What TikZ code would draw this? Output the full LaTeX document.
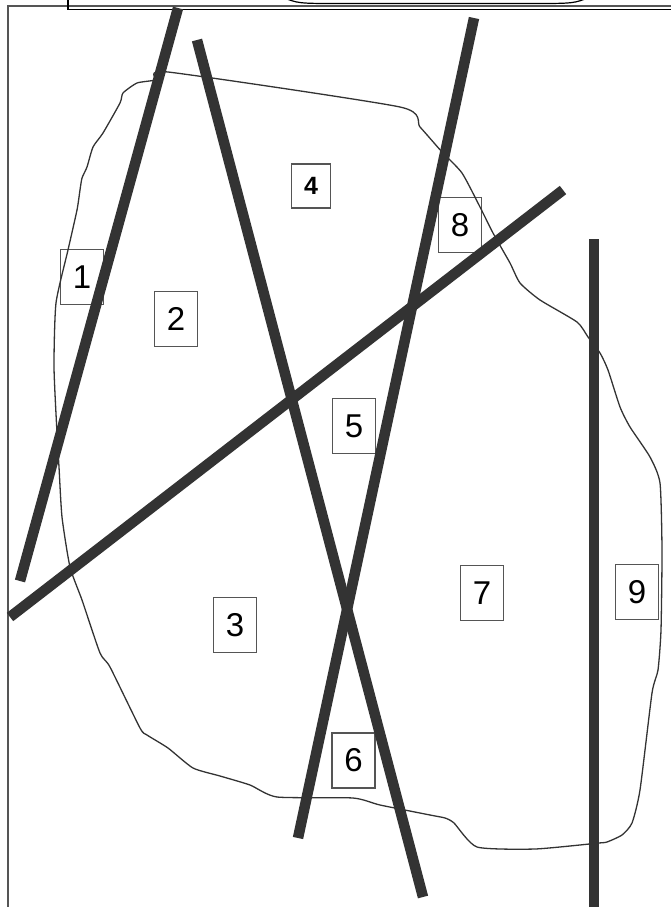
\documentclass[tikz,border=0pt]{standalone}
\usepackage{fontspec}
\setmainfont{Liberation Sans}
\begin{document}
\begin{tikzpicture}[x=1pt,y=-1pt,
  bar/.style={line width=10.5pt,draw=barc,line cap=butt},
  lbl/.style={draw=boxc,line width=1.1pt,minimum width=43pt,minimum height=55pt,inner sep=0pt,font=\fontsize{33}{33}\selectfont},
  outline/.style={draw=barc,line width=1.3pt}]
\definecolor{barc}{HTML}{333333}
\definecolor{boxc}{HTML}{555555}
\useasboundingbox (0,0) rectangle (671,907);
% frame
\draw[boxc,line width=1.3pt] (8,907) -- (8,6) -- (671,6);
\draw[black,line width=1.2pt] (68,0) -- (68,9.5) -- (671,9.5);
\draw[black,line width=1.2pt] (282,-3) .. controls (298,3.5) .. (340,3.5) -- (532,3.5) .. controls (574,3.5) .. (590,-3);
% labels
\node[lbl] (n1) at (82,277) {1};
\node[lbl] (n2) at (176,319) {2};
\node[lbl] (n3) at (235,625) {3};
\node[lbl,minimum width=39pt,minimum height=44pt,font=\fontsize{25}{25}\selectfont\bfseries] (n4) at (311,186) {4};
\node[lbl] (n5) at (354,426) {5};
\node[lbl] (n6) at (353.5,760.5) {6};
\node[lbl] (n7) at (482,593) {7};
\node[lbl] (n8) at (460,225) {8};
\node[lbl] (n9) at (637,592) {9};
% blob
\draw[outline] plot[smooth cycle,tension=0.35] coordinates {
(168,72) (400,107) (420,127) (442,152) (462,173) (480,207) (493,233) (510,263)
(520,283) (540,300) (577,322) (588,337) (600,353) (608,370) (620,407) (630,427)
(650,457) (660,483) (662,550) (661,630) (658,670) (652,693) (640,790) (632,823)
(622,835) (607,842) (599,843) (535,849) (477,847) (454,823) (445,818)
(430,815) (380,805) (353,798) (277,797) (250,785) (220,776) (193,768) (168,748)
(147,735) (140,728) (110,667) (100,653) (82,600) (70,567) (62,517) (59,467)
(57,433) (54,367) (56,303) (68,250) (77,210) (80,190) (82,178) (87,167) (93,147)
(103,133) (120,103) (123,93) (137,83) (155,80)};
% bars
\coordinate (a1) at (178,8);   \coordinate (b1) at (20,581);
\coordinate (a2) at (197,40);  \coordinate (b2) at (423,897);
\coordinate (a3) at (474,18);  \coordinate (b3) at (298,838);
\coordinate (a4) at (563,190); \coordinate (b4) at (10,617);
\coordinate (a5) at (594,239); \coordinate (b5) at (594,907);
\draw[bar] (a1) -- (b1);
\draw[bar] (a2) -- (b2);
\draw[bar] (a3) -- (b3);
\draw[bar] (a4) -- (b4);
\draw[bar] (a5) -- (b5);
\end{tikzpicture}
\end{document}
